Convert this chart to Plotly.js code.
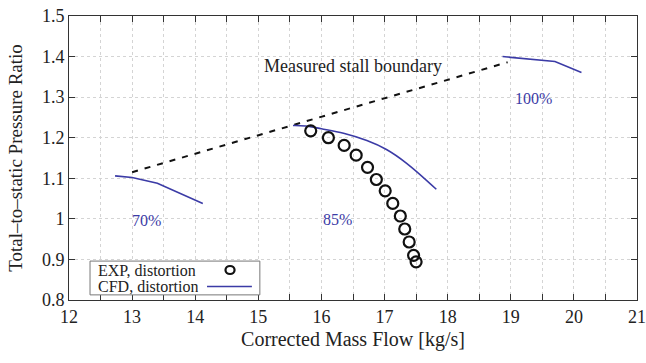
<!DOCTYPE html>
<html>
<head>
<meta charset="utf-8">
<script src="https://cdn.plot.ly/plotly-3.0.1.min.js"></script>
<style>html,body{margin:0;padding:0;background:#fff;}#chart{width:646px;height:363px;}</style>
</head>
<body>
<div id="chart"></div>
<script>
// EXP, distortion (85% speed)
const expFlow = [15.83, 16.11, 16.36, 16.55, 16.73, 16.87, 17.01, 17.13, 17.25, 17.32, 17.39, 17.46, 17.50];
const expRatio = [1.217, 1.200, 1.181, 1.157, 1.127, 1.097, 1.069, 1.038, 1.007, 0.975, 0.943, 0.910, 0.894];
// CFD, distortion
const cfd70Flow = [12.73, 13.0, 13.4, 13.8, 14.12];
const cfd70Ratio = [1.106, 1.102, 1.088, 1.061, 1.038];
const cfd85Flow = [15.55, 15.75, 16.0, 16.35, 16.72, 17.03, 17.35, 17.82];
const cfd85Ratio = [1.230, 1.229, 1.222, 1.211, 1.193, 1.171, 1.137, 1.073];
const cfd100Flow = [18.87, 19.7, 20.12];
const cfd100Ratio = [1.400, 1.388, 1.361];
// Measured stall boundary
const stallFlow = [13.0, 18.95];
const stallRatio = [1.115, 1.386];
// Speed labels
const speedLabels = ['70%', '85%', '100%'];
const speedLabelX = [13.23, 16.26, 19.36];
const speedLabelY = [0.997, 0.999, 1.297];

const blue = '#3b3ba6';
const serif = "'Liberation Serif', 'Times New Roman', Times, serif";

const traces = [
  {x: stallFlow, y: stallRatio, mode: 'lines', line: {color: '#111', width: 2, dash: '6px,7px'}, showlegend: false, hoverinfo: 'skip'},
  {x: cfd70Flow, y: cfd70Ratio, mode: 'lines', line: {color: blue, width: 1.6}, showlegend: false},
  {x: cfd85Flow, y: cfd85Ratio, mode: 'lines', line: {color: blue, width: 1.6, shape: 'spline'}, showlegend: false},
  {x: cfd100Flow, y: cfd100Ratio, mode: 'lines', line: {color: blue, width: 1.6}, showlegend: false},
  {x: expFlow, y: expRatio, mode: 'markers', marker: {symbol: 'circle-open', size: 11, color: '#111', line: {width: 2.2, color: '#111'}}, showlegend: false}
];

const annotations = speedLabels.map((t, i) => ({
  x: speedLabelX[i], y: speedLabelY[i], xref: 'x', yref: 'y', text: t, showarrow: false,
  xanchor: 'center', yanchor: 'middle',
  font: {family: serif, size: 16, color: blue}
}));
annotations.push({x: 16.5, y: 1.377, xref: 'x', yref: 'y', text: 'Measured stall boundary', showarrow: false,
  xanchor: 'center', yanchor: 'middle',
  font: {family: serif, size: 18, color: '#222'}});
annotations.push({x: 0.047, y: 0.1056, xref: 'paper', yref: 'paper', xanchor: 'left', yanchor: 'middle', text: 'EXP, distortion', showarrow: false,
  height: 15, font: {family: serif, size: 16, color: '#222'}});
annotations.push({x: 0.047, y: 0.0475, xref: 'paper', yref: 'paper', xanchor: 'left', yanchor: 'middle', text: 'CFD, distortion', showarrow: false,
  height: 15, font: {family: serif, size: 16, color: '#222'}});

const shapes = [
  {type: 'rect', xref: 'paper', yref: 'paper', x0: 0.0370, x1: 0.336, y0: 0.018, y1: 0.137, line: {color: '#777', width: 1}, fillcolor: '#fff', layer: 'above'},
  {type: 'circle', xref: 'paper', yref: 'paper', x0: 0.2755, x1: 0.2915, y0: 0.0915, y1: 0.1197, line: {color: '#111', width: 2.2}, layer: 'above'},
  {type: 'line', xref: 'paper', yref: 'paper', x0: 0.243, x1: 0.322, y0: 0.0475, y1: 0.0475, line: {color: blue, width: 1.6}, layer: 'above'}
];

const axisCommon = {
  showline: true, linecolor: '#333', linewidth: 1, mirror: 'ticks',
  ticks: 'inside', ticklen: 6, tickcolor: '#333',
  showgrid: true, gridcolor: '#d4d4d4', griddash: 'dot', gridwidth: 1,
  zeroline: false, tickfont: {family: serif, size: 18, color: '#222'}
};

const layout = {
  width: 646, height: 363,
  margin: {l: 69, r: 9, t: 16, b: 63},
  paper_bgcolor: '#fff', plot_bgcolor: '#fff',
  showlegend: false,
  font: {family: serif},
  xaxis: Object.assign({}, axisCommon, {
    range: [12, 21], dtick: 1, tick0: 12,
    minor: {dtick: 0.5, ticks: 'inside', ticklen: 6, tickcolor: '#333', showgrid: true, gridcolor: '#d4d4d4', griddash: 'dot'},
    title: {text: 'Corrected Mass Flow [kg/s]', font: {family: serif, size: 20, color: '#222'}, standoff: 6}
  }),
  yaxis: Object.assign({}, axisCommon, {
    range: [0.8, 1.5], dtick: 0.1, tick0: 0.8,
    title: {text: 'Total\u2013to\u2013static Pressure Ratio', font: {family: serif, size: 19, color: '#222'}, standoff: 14}
  }),
  annotations: annotations,
  shapes: shapes
};

Plotly.newPlot('chart', traces, layout, {displayModeBar: false, staticPlot: true});
</script>
</body>
</html>
